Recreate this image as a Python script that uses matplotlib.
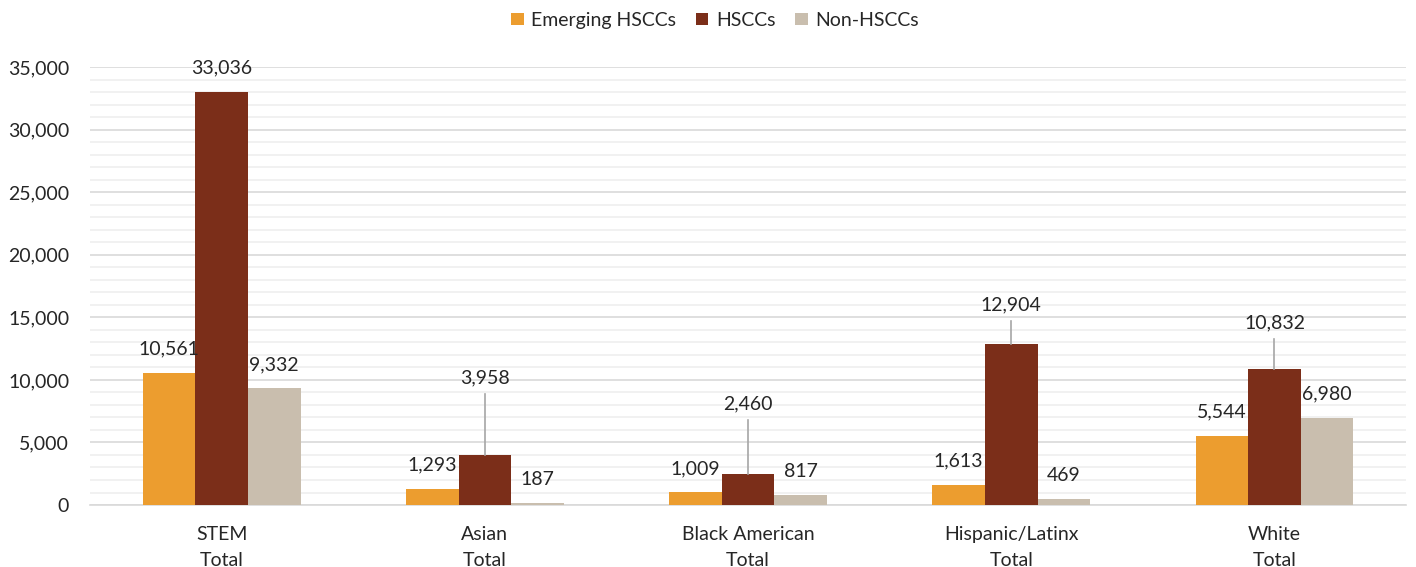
import matplotlib
matplotlib.use("Agg")
import matplotlib.pyplot as plt
import numpy as np
from matplotlib.ticker import MultipleLocator, FuncFormatter

categories = ["STEM\nTotal", "Asian\nTotal", "Black American\nTotal", "Hispanic/Latinx\nTotal", "White\nTotal"]
series_names = ["Emerging HSCCs", "HSCCs", "Non-HSCCs"]
emerging = [10561, 1293, 1009, 1613, 5544]
hsccs = [33036, 3958, 2460, 12904, 10832]
non_hsccs = [9332, 187, 817, 469, 6980]

colors = ["#EC9D2F", "#7B2E19", "#C9BEAE"]
# label positions (data y) for labels moved up with leader lines: (series index, category index) -> y
leader_labels = {(1, 1): 10150, (1, 2): 8070, (1, 3): 15990, (1, 4): 14550}

plt.rcParams['font.family'] = ['Lato', 'DejaVu Sans']
fig = plt.figure(figsize=(14.16, 5.67), dpi=100)
ax = fig.add_axes([0.0636, 0.1093, 0.9294, 0.7725])

FS = 14
x = np.arange(len(categories))
w = 0.2
text_color = "#262626"
all_series = [emerging, hsccs, non_hsccs]
for i, (vals, c, name) in enumerate(zip(all_series, colors, series_names)):
    xs = x + (i - 1) * w
    ax.bar(xs, vals, width=w, color=c, label=name, zorder=3)
    for j, (xx, v) in enumerate(zip(xs, vals)):
        lab = f"{v:,}"
        if (i, j) in leader_labels:
            ly = leader_labels[(i, j)]
            ax.text(xx, ly, lab, ha='center', va='center', fontsize=FS, color=text_color, zorder=4)
            ax.plot([xx, xx], [v, ly - 1250], color="#A6A6A6", lw=1.2, zorder=4)
        else:
            ax.annotate(lab, (xx, v), xytext=(0, 17), textcoords='offset points',
                        ha='center', va='center', fontsize=FS, color=text_color, zorder=4)

ax.set_xlim(-0.5, len(categories) - 0.5)
ax.set_ylim(0, 35000)
ax.yaxis.set_major_locator(MultipleLocator(5000))
ax.yaxis.set_minor_locator(MultipleLocator(1000))
ax.yaxis.set_major_formatter(FuncFormatter(lambda v, p: f"{int(v):,}"))
ax.grid(which='major', axis='y', color="#D9D9D9", lw=1.2, zorder=0)
ax.grid(which='minor', axis='y', color="#EFEFEF", lw=1.2, zorder=0)
ax.set_axisbelow(True)
for s in ['top', 'right', 'left']:
    ax.spines[s].set_visible(False)
ax.spines['bottom'].set_color("#D9D9D9")
ax.spines['bottom'].set_linewidth(1.2)
ax.tick_params(axis='y', which='both', length=0, pad=15, labelsize=FS, labelcolor=text_color)
ax.tick_params(axis='x', length=0, pad=15, labelsize=FS, labelcolor=text_color)
ax.set_xticks(x)
ax.set_xticklabels(categories, linespacing=1.65)

fig.legend(loc='upper center', bbox_to_anchor=(0.505, 1.01), ncol=3, frameon=False,
           fontsize=FS, handlelength=0.65, handleheight=0.65, handletextpad=0.4,
           columnspacing=1.0, labelcolor=text_color)

fig.savefig("out.png", dpi=100, facecolor='white')
